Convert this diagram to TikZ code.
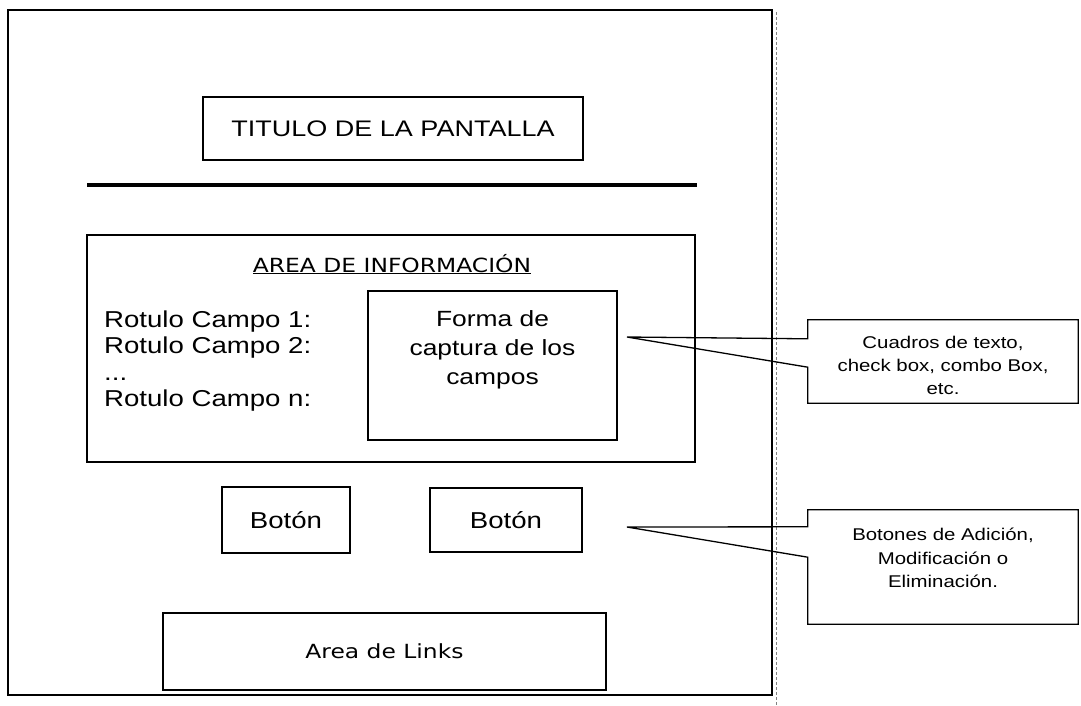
\documentclass[tikz,border=0pt]{standalone}
\usepackage{fontspec}
\setmainfont{Liberation Sans}[FakeStretch=1.2]
\newfontfamily\vfont{DejaVu Sans}[FakeStretch=1.2]
\begin{document}
\begin{tikzpicture}[x=1pt,y=-1pt,
  box/.style={draw,line width=1.3pt,inner sep=0pt},
  big/.style={font=\fontsize{23}{26.5}\selectfont},
  small/.style={font=\fontsize{17}{22.8}\selectfont,align=center,inner sep=0pt},
  verd/.style={font=\vfont\fontsize{19.5}{24}\selectfont},
  line/.style={line width=1.3pt,line join=miter}]
\useasboundingbox (0,0) rectangle (1081,705);
% outer screen frame
\node[box,minimum width=764pt,minimum height=685pt] (frame) at (390,352.5) {};
\draw[gray,line width=0.6pt,densely dashed] (776,12) -- (776,705);
% title
\node[box,minimum width=380pt,minimum height=63pt,font=\fontsize{22.5}{26}\selectfont] (title) at (393,128.5) {TITULO DE LA PANTALLA};
\coordinate (rl) at (87,185);
\coordinate (rr) at (697,185);
\draw[line width=4pt] (rl) -- (rr);
% information area
\node[box,minimum width=608pt,minimum height=227pt] (info) at (391,348.5) {};
\node[verd,anchor=base,inner sep=0pt] (head) at (392,272) {\underline{AREA DE INFORMACIÓN}};
\node[big,anchor=base west,inner sep=0pt] (r1) at (104,327) {Rotulo Campo 1:};
\node[big,anchor=base west,inner sep=0pt] (r2) at (104,353.5) {Rotulo Campo 2:};
\node[big,anchor=base west,inner sep=0pt] (r3) at (104,380) {...};
\node[big,anchor=base west,inner sep=0pt] (rn) at (104,406.5) {Rotulo Campo n:};
\node[box,minimum width=249pt,minimum height=149pt] (forma) at (492.5,365.5) {};
\node[align=center,anchor=north,inner sep=0pt,font=\fontsize{22}{29}\selectfont] (formatext) at (492.5,310) {Forma de\\captura de los\\campos};
% buttons
\node[box,big,minimum width=128pt,minimum height=66pt] (b1) at (286,520) {Botón};
\node[box,big,minimum width=152pt,minimum height=64pt] (b2) at (506,520) {Botón};
% links
\node[box,verd,minimum width=443pt,minimum height=77pt] (links) at (384.5,651.5) {Area de Links};
% callout 1
\node[minimum width=270pt,minimum height=83pt,inner sep=0pt] (c1) at (943,361.5) {};
\node[small,anchor=north] (c1t) at (943,336) {Cuadros de texto,\\check box, combo Box,\\etc.};
\coordinate (t1) at (627,337);
\draw[line] ([yshift=-19pt]c1.north west) -- (c1.north west) -- (c1.north east) -- (c1.south east) -- (c1.south west) -- ([yshift=36pt]c1.south west) -- (t1) -- cycle;
% callout 2
\node[minimum width=270pt,minimum height=114pt,inner sep=0pt] (c2) at (943,567) {};
\node[small,anchor=north,font=\fontsize{17}{23.5}\selectfont] (c2t) at (943,528) {Botones de Adición,\\Modificación o\\Eliminación.};
\coordinate (t2) at (627,527);
\draw[line] ([yshift=-17pt]c2.north west) -- (c2.north west) -- (c2.north east) -- (c2.south east) -- (c2.south west) -- ([yshift=67pt]c2.south west) -- (t2) -- cycle;
\end{tikzpicture}
\end{document}
